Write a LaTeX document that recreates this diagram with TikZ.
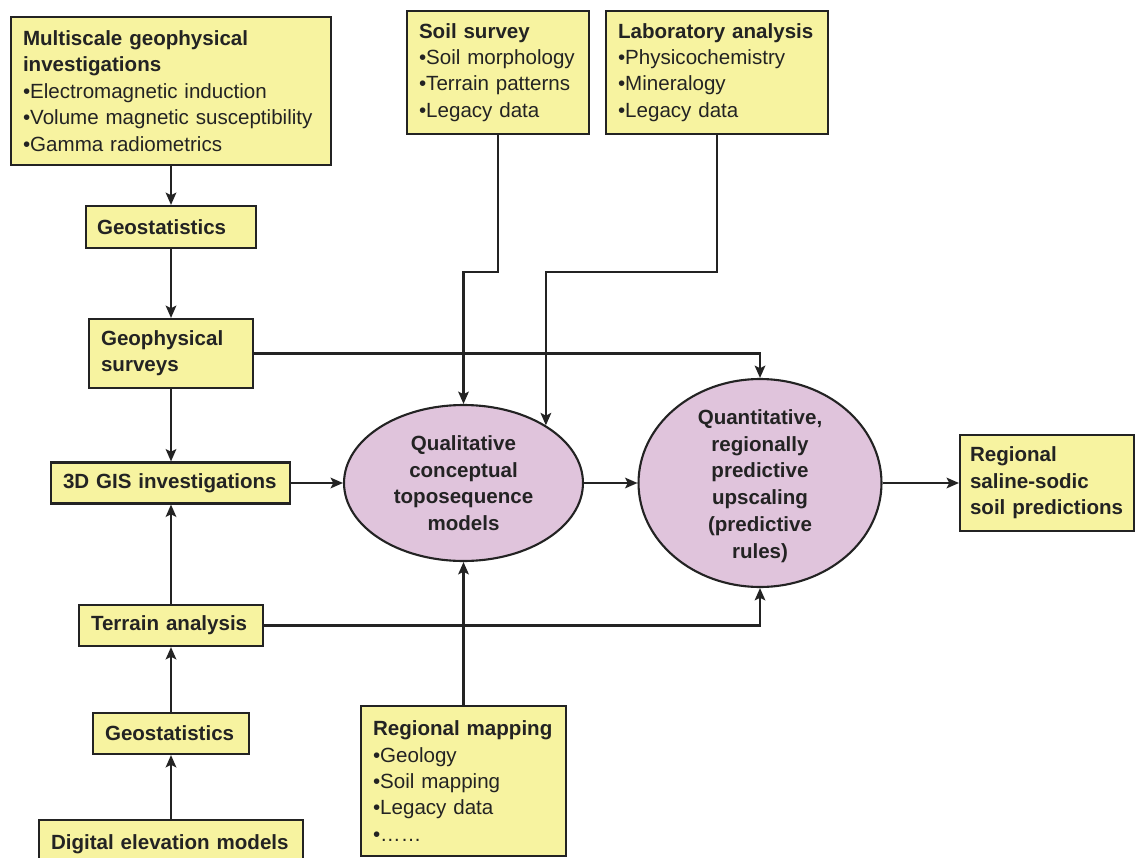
\documentclass[tikz,border=0pt]{standalone}
\usepackage{fontspec}
\setmainfont{Liberation Sans}
\usetikzlibrary{shapes.geometric,arrows.meta}
\definecolor{boxfill}{RGB}{247,243,160}
\definecolor{ellfill}{RGB}{224,196,220}
\definecolor{ink}{RGB}{35,35,35}
\tikzset{
  ybox/.style={draw=ink, line width=1.2pt, fill=boxfill, rectangle, align=left,
    inner xsep=0.24cm, inner ysep=0pt,
    font=\fontsize{11.7}{15}\selectfont, text=ink},
  ell/.style={draw=ink, line width=1.2pt, fill=ellfill, ellipse, inner sep=0pt},
  etext/.style={align=center, font=\fontsize{11.7}{15.2}\selectfont\bfseries, text=ink},
  arr/.style={draw=ink, line width=1.4pt, -{Stealth[length=7pt,width=6pt,inset=1.5pt]}},
  ln/.style={draw=ink, line width=1.4pt}
}
\begin{document}
\begin{tikzpicture}[x=0.02cm,y=-0.02cm]
\clip (0,0) rectangle (1135,858);
\fill[white] (0,0) rectangle (1135,858);

% left column
\node[ybox, text width=5.92cm, minimum height=2.96cm] (multi) at (171,91)
  {\textbf{Multiscale geophysical}\\\textbf{investigations}\\•Electromagnetic induction\\•Volume magnetic susceptibility\\•Gamma radiometrics};
\node[ybox, text width=2.96cm, minimum height=0.84cm, inner xsep=0.22cm] (geo1) at (171,227) {\textbf{Geostatistics}};
\node[ybox, text width=2.8cm, minimum height=1.38cm, inner xsep=0.24cm] (gs) at (171,353.5) {\textbf{Geophysical}\\\textbf{surveys}};
\node[ybox, text width=4.3cm, minimum height=0.82cm, inner xsep=0.24cm] (gis) at (170.5,483) {\textbf{3D GIS investigations}};
\node[ybox, text width=3.2cm, minimum height=0.82cm, inner xsep=0.24cm] (terrain) at (171,625.5) {\textbf{Terrain analysis}};
\node[ybox, text width=2.64cm, minimum height=0.82cm, inner xsep=0.24cm] (geo2) at (171,733.5) {\textbf{Geostatistics}};
\node[ybox, text width=4.8cm, minimum height=0.96cm, inner xsep=0.24cm] (dem) at (171,844) {\textbf{Digital elevation models}};

% top boxes
\node[ybox, text width=3.16cm, minimum height=2.46cm, inner xsep=0.24cm] (soil) at (498,72.5)
  {\textbf{Soil survey}\\•Soil morphology\\•Terrain patterns\\•Legacy data};
\node[ybox, text width=3.96cm, minimum height=2.46cm, inner xsep=0.24cm] (lab) at (717,72.5)
  {\textbf{Laboratory analysis}\\•Physicochemistry\\•Mineralogy\\•Legacy data};

% bottom box
\node[ybox, text width=3.62cm, minimum height=3.0cm, inner xsep=0.24cm] (regmap) at (463.5,781)
  {\textbf{Regional mapping}\\•Geology\\•Soil mapping\\•Legacy data\\•……};

% right box
\node[ybox, text width=3.08cm, minimum height=1.92cm, inner xsep=0.2cm] (saline) at (1047,483)
  {\textbf{Regional}\\\textbf{saline-sodic}\\\textbf{soil predictions}};

% ellipses
\node[ell, minimum width=4.78cm, minimum height=3.12cm] (e1) at (463.5,483) {};
\node[etext] (e1t) at (e1.center) {Qualitative\\conceptual\\toposequence\\models};
\node[ell, minimum width=4.86cm, minimum height=4.16cm] (e2) at (760,483) {};
\node[etext] (e2t) at ([yshift=-0.06cm]e2.center) {Quantitative,\\regionally\\predictive\\upscaling\\(predictive\\rules)};

% connectors
\draw[arr] (multi.south) -- (geo1.north);
\draw[arr] (geo1.south) -- (gs.north);
\draw[arr] (gs.south) -- (gs.south |- gis.north);
\draw[arr] (terrain.north) -- (terrain.north |- gis.south);
\draw[arr] (geo2.north) -- (terrain.south);
\draw[arr] (dem.north) -- (geo2.south);
\draw[arr] (gis.east) -- (e1.west);
\draw[arr] (e1.east) -- (e2.west);
\draw[arr] (e2.east) -- (saline.west);
\draw[arr] (soil.south) -- ++(0,137) -| (e1.north);
\draw[arr] (lab.south) -- ++(0,137) -| (e1.35);
\draw[arr] (gs.east) -| (e2.north);
\draw[arr] (terrain.east) -| (e2.south);
\draw[arr] (regmap.north) -- (e1.south);
\end{tikzpicture}
\end{document}
